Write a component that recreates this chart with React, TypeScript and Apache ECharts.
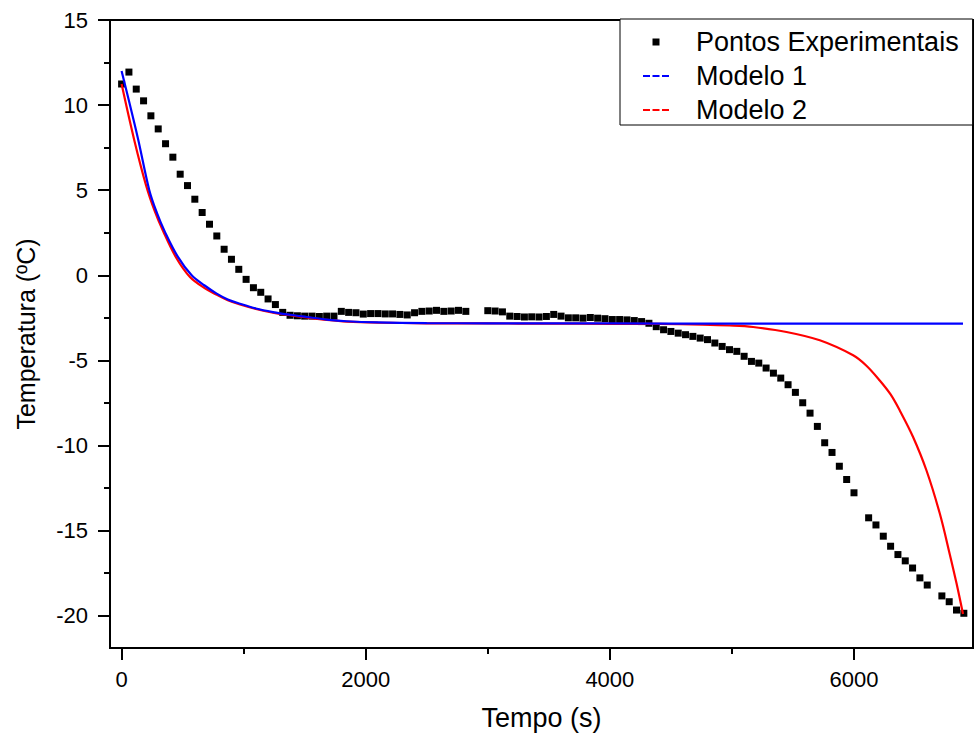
import React, { useEffect, useRef } from "react";
import * as echarts from "echarts";

// ---------- Data ----------
const expTime = [
  0, 60, 120, 180, 240, 300, 360, 420, 480, 540, 600, 660, 720, 780, 840, 900, 960, 1020, 1080, 1140,
  1200, 1260, 1320, 1380, 1440, 1500, 1560, 1620, 1680, 1740, 1800, 1860, 1920, 1980, 2040, 2100,
  2160, 2220, 2280, 2340, 2400, 2460, 2520, 2580, 2640, 2700, 2760, 2820, 3000, 3060, 3120, 3180,
  3240, 3300, 3360, 3420, 3480, 3540, 3600, 3660, 3720, 3780, 3840, 3900, 3960, 4020, 4080, 4140,
  4200, 4260, 4320, 4380, 4440, 4500, 4560, 4620, 4680, 4740, 4800, 4860, 4920, 4980, 5040, 5100,
  5160, 5220, 5280, 5340, 5400, 5460, 5520, 5580, 5640, 5700, 5760, 5820, 5880, 5940, 6000, 6120,
  6180, 6240, 6300, 6360, 6420, 6480, 6540, 6600, 6720, 6780, 6840, 6900,
];
const expTemp = [
  11.24, 11.94, 10.94, 10.25, 9.37, 8.6, 7.73, 6.94, 5.94, 5.27, 4.47, 3.69, 3.0, 2.31, 1.53, 0.94,
  0.35, -0.24, -0.73, -1.0, -1.39, -1.72, -2.18, -2.35, -2.38, -2.4, -2.4, -2.42, -2.4, -2.4, -2.12,
  -2.18, -2.2, -2.28, -2.25, -2.25, -2.27, -2.27, -2.3, -2.33, -2.2, -2.12, -2.1, -2.06, -2.12, -2.1,
  -2.06, -2.12, -2.08, -2.1, -2.15, -2.4, -2.42, -2.45, -2.44, -2.45, -2.42, -2.3, -2.4, -2.5, -2.5,
  -2.52, -2.48, -2.52, -2.55, -2.6, -2.6, -2.62, -2.66, -2.72, -2.82, -3.02, -3.2, -3.3, -3.4, -3.49,
  -3.59, -3.69, -3.78, -3.98, -4.18, -4.37, -4.47, -4.76, -5.06, -5.16, -5.45, -5.75, -6.04, -6.43,
  -6.88, -7.49, -8.1, -8.88, -9.84, -10.41, -11.22, -12.0, -12.78, -14.25, -14.67, -15.33, -15.92,
  -16.41, -16.78, -17.2, -17.78, -18.2, -18.84, -19.18, -19.67, -19.86,
];

const model1Time = [
  0, 132, 227, 290, 355, 460, 574, 680, 779, 870, 970, 1100, 1240, 1380, 1516, 1680, 1844, 2100,
  2500, 3000, 4000, 5000, 6000, 6893,
];
const model1Temp = [
  12.0, 8.1, 5.0, 3.65, 2.55, 1.1, 0, -0.6, -1.08, -1.42, -1.67, -1.95, -2.16, -2.32, -2.45, -2.6,
  -2.7, -2.77, -2.81, -2.82, -2.83, -2.84, -2.84, -2.84,
];

const model2Time = [
  0, 104, 200, 270, 340, 450, 560, 680, 780, 870, 970, 1100, 1240, 1380, 1516, 1680, 1844, 2100,
  2500, 3000, 3500, 4000, 4400, 4760, 4980, 5174, 5447, 5720, 5993, 6100, 6211, 6300, 6375, 6484,
  6594, 6703, 6785, 6840, 6893,
];
const model2Temp = [
  11.24, 7.94, 5.3, 3.8, 2.6, 1.0, -0.1, -0.75, -1.15, -1.47, -1.72, -1.98, -2.2, -2.35, -2.48,
  -2.62, -2.72, -2.78, -2.82, -2.83, -2.84, -2.85, -2.86, -2.9, -2.95, -3.04, -3.33, -3.82, -4.7,
  -5.3, -6.18, -7.0, -7.94, -9.5, -11.47, -14.0, -16.4, -18.1, -19.9,
];

const xMajorTicks = [0, 2000, 4000, 6000];
const xMinorTicks = [1000, 3000, 5000];
const yMajorTicks = [-20, -15, -10, -5, 0, 5, 10, 15];
const yMinorTicks = [-17.5, -12.5, -7.5, -2.5, 2.5, 7.5, 12.5];

const seriesNames = ["Pontos Experimentais", "Modelo 1", "Modelo 2"];

const FONT = "Arial, Liberation Sans, Helvetica, sans-serif";
const X_MIN = -95;
const X_MAX = 6975;
const Y_MIN = -21.9;
const Y_MAX = 15;

const DASH_ICON = "path://M0,0M0,3h7v2h-7zM9.5,3h7v2h-7zM19,3h7v2h-7zM26,8";
const SQUARE_ICON = "path://M0,0M9.5,0.5h7v7h-7zM26,8";

export default function App() {
  const ref = useRef<HTMLDivElement>(null);

  useEffect(() => {
    document.body.style.margin = "0";
    if (!ref.current) return;
    const chart = echarts.init(ref.current, null, { renderer: "svg" });

    const black = "#000";
    const plain = (v: number) => String(v);
    const xAxisBase = {
      type: "value" as const,
      min: X_MIN,
      max: X_MAX,
      position: "bottom" as const,
      splitLine: { show: false },
    };
    const yAxisBase = {
      type: "value" as const,
      min: Y_MIN,
      max: Y_MAX,
      position: "left" as const,
      splitLine: { show: false },
    };

    chart.setOption({
      animation: false,
      backgroundColor: "#fff",
      textStyle: { fontFamily: FONT },
      grid: {
        left: 110,
        top: 20,
        width: 863,
        height: 628,
        show: true,
        borderColor: black,
        borderWidth: 2,
        containLabel: false,
        outerBoundsMode: "none",
      },
      legend: {
        orient: "vertical",
        left: 620,
        top: 19,
        padding: [9, 14, 1, 23],
        itemGap: 6,
        itemWidth: 26,
        itemHeight: 8,
        borderColor: black,
        borderWidth: 1,
        borderRadius: 0,
        backgroundColor: "#fff",
        selectedMode: false,
        textStyle: {
          fontSize: 27,
          color: black,
          fontFamily: FONT,
          lineHeight: 28,
          padding: [0, 0, 0, 22],
        },
        data: [
          { name: seriesNames[0], icon: SQUARE_ICON, itemStyle: { color: black, borderWidth: 0, opacity: 1 } },
          { name: seriesNames[1], icon: DASH_ICON, itemStyle: { color: "#0000ff", borderWidth: 0 } },
          { name: seriesNames[2], icon: DASH_ICON, itemStyle: { color: "#ff0000", borderWidth: 0 } },
        ],
      },
      xAxis: [
        {
          ...xAxisBase,
          name: "Tempo (s)",
          nameLocation: "middle",
          nameGap: 56,
          nameTextStyle: { fontSize: 27, color: black, fontFamily: FONT },
          axisLine: { show: true, onZero: false, lineStyle: { color: black, width: 2 } },
          axisTick: {
            show: true,
            inside: false,
            length: 12,
            customValues: xMajorTicks,
            lineStyle: { color: black, width: 2 },
          },
          axisLabel: {
            show: true,
            customValues: xMajorTicks,
            formatter: plain,
            fontSize: 22,
            color: black,
            margin: 20,
            fontFamily: FONT,
          },
        },
        {
          ...xAxisBase,
          axisLine: { show: false, onZero: false },
          axisTick: {
            show: true,
            inside: false,
            length: 6,
            customValues: xMinorTicks,
            lineStyle: { color: black, width: 2 },
          },
          axisLabel: { show: false },
        },
      ],
      yAxis: [
        {
          ...yAxisBase,
          name: "Temperatura (ºC)",
          nameLocation: "middle",
          nameGap: 72,
          nameRotate: 90,
          nameTextStyle: { fontSize: 25, color: black, fontFamily: FONT },
          axisLine: { show: true, onZero: false, lineStyle: { color: black, width: 2 } },
          axisTick: {
            show: true,
            inside: false,
            length: 12,
            customValues: yMajorTicks,
            lineStyle: { color: black, width: 2 },
          },
          axisLabel: {
            show: true,
            customValues: yMajorTicks,
            formatter: plain,
            fontSize: 22,
            color: black,
            margin: 22,
            fontFamily: FONT,
          },
        },
        {
          ...yAxisBase,
          axisLine: { show: false, onZero: false },
          axisTick: {
            show: true,
            inside: false,
            length: 6,
            customValues: yMinorTicks,
            lineStyle: { color: black, width: 2 },
          },
          axisLabel: { show: false },
        },
      ],
      series: [
        {
          name: seriesNames[0],
          type: "scatter",
          xAxisIndex: 0,
          yAxisIndex: 0,
          symbol: "rect",
          symbolSize: 7,
          itemStyle: { color: black, opacity: 1 },
          z: 2,
          data: expTime.map((t, i) => [t, expTemp[i]]),
        },
        {
          name: seriesNames[2],
          type: "line",
          xAxisIndex: 0,
          yAxisIndex: 0,
          showSymbol: false,
          symbol: "none",
          smooth: 0.35,
          lineStyle: { color: "#ff0000", width: 2.2 },
          itemStyle: { color: "#ff0000" },
          z: 3,
          data: model2Time.map((t, i) => [t, model2Temp[i]]),
        },
        {
          name: seriesNames[1],
          type: "line",
          xAxisIndex: 0,
          yAxisIndex: 0,
          showSymbol: false,
          symbol: "none",
          smooth: 0.35,
          lineStyle: { color: "#0000ff", width: 2.2 },
          itemStyle: { color: "#0000ff" },
          z: 4,
          data: model1Time.map((t, i) => [t, model1Temp[i]]),
        },
      ],
    });

    return () => {
      chart.dispose();
    };
  }, []);

  return <div ref={ref} style={{ width: 976, height: 736 }} />;
}
